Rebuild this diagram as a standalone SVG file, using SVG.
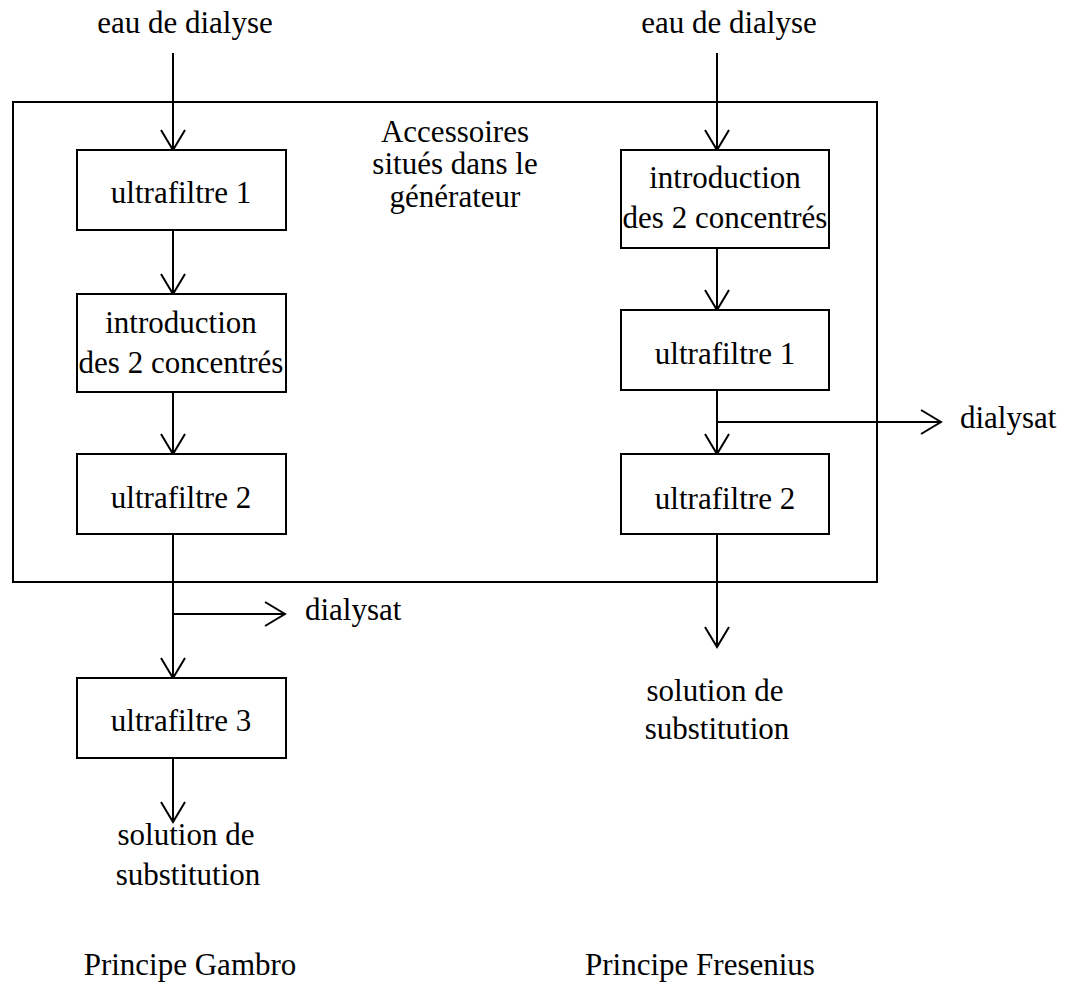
<svg xmlns="http://www.w3.org/2000/svg" width="1066" height="985" viewBox="0 0 1066 985">
<style>
text{font-family:"Liberation Serif","Times New Roman",serif;font-size:31px;fill:#000}
.c{text-anchor:middle}
.b{fill:#fff;stroke:#000;stroke-width:2}
.l{fill:none;stroke:#000;stroke-width:2}
</style>
<defs>
<marker id="ah" viewBox="-22 -14 24 28" refX="0" refY="0" markerWidth="24" markerHeight="28" markerUnits="userSpaceOnUse" orient="auto">
<path d="M-20,-12 L0,0 L-20,12" fill="none" stroke="#000" stroke-width="2"/>
</marker>
</defs>
<rect id="generateur" x="13" y="102" width="864" height="480" fill="none" stroke="#000" stroke-width="2"/>
<g id="connectors" class="l">
<path class="l" d="M173,53 V150" marker-end="url(#ah)"/>
<path class="l" d="M173,230 V294" marker-end="url(#ah)"/>
<path class="l" d="M173,392 V454" marker-end="url(#ah)"/>
<path class="l" d="M173,534 V678" marker-end="url(#ah)"/>
<path class="l" d="M173,614 H285" marker-end="url(#ah)"/>
<path class="l" d="M173,757 V822" marker-end="url(#ah)"/>
<path class="l" d="M717,53 V150" marker-end="url(#ah)"/>
<path class="l" d="M717,248 V310" marker-end="url(#ah)"/>
<path class="l" d="M717,390 V454" marker-end="url(#ah)"/>
<path class="l" d="M717,422 H941" marker-end="url(#ah)"/>
<path class="l" d="M717,534 V647" marker-end="url(#ah)"/>
</g>
<g id="g_uf1"><rect class="b" x="77" y="150" width="209" height="80"/><text class="c" x="181" y="203">ultrafiltre 1</text></g>
<g id="g_intro"><rect class="b" x="77" y="294" width="209" height="98"/><text class="c" x="181" y="333">introduction</text><text class="c" x="181" y="373">des 2 concentrés</text></g>
<g id="g_uf2"><rect class="b" x="77" y="454" width="209" height="80"/><text class="c" x="181" y="508">ultrafiltre 2</text></g>
<g id="g_uf3"><rect class="b" x="77" y="678" width="209" height="80"/><text class="c" x="181" y="731">ultrafiltre 3</text></g>
<g id="f_intro"><rect class="b" x="621" y="150" width="208" height="98"/><text class="c" x="725" y="188">introduction</text><text class="c" x="725" y="228">des 2 concentrés</text></g>
<g id="f_uf1"><rect class="b" x="621" y="310" width="208" height="80"/><text class="c" x="725" y="364">ultrafiltre 1</text></g>
<g id="f_uf2"><rect class="b" x="621" y="454" width="208" height="80"/><text class="c" x="725" y="509">ultrafiltre 2</text></g>
<g id="labels">
<text class="c" x="185" y="33">eau de dialyse</text>
<text class="c" x="729" y="33">eau de dialyse</text>
<text class="c" x="455" y="142">Accessoires</text>
<text class="c" x="455" y="174">situés dans le</text>
<text class="c" x="455" y="207">générateur</text>
<text x="305" y="620">dialysat</text>
<text x="960" y="428">dialysat</text>
<text class="c" x="186" y="845">solution de</text>
<text class="c" x="188" y="885">substitution</text>
<text class="c" x="715" y="701">solution de</text>
<text class="c" x="717" y="739">substitution</text>
<text class="c" x="190" y="975">Principe Gambro</text>
<text class="c" x="700" y="975">Principe Fresenius</text>
</g>
</svg>
